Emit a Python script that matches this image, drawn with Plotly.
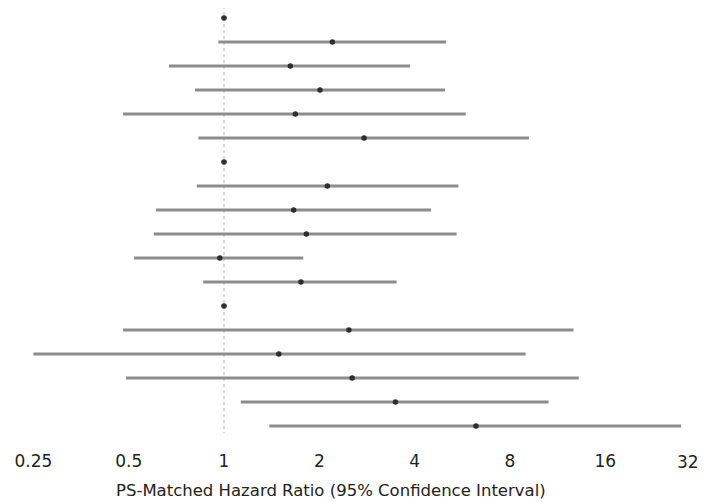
import numpy as np
import plotly.graph_objects as go

# Rows from top (0) to bottom (17); header rows have HR = 1 with no CI
hr =    [1.0, 2.20, 1.62, 2.01, 1.68, 2.77, 1.0, 2.12, 1.66, 1.82, 0.97, 1.75, 1.0, 2.48, 1.49, 2.54, 3.48, 6.25]
lower = [None, 0.96, 0.67, 0.81, 0.48, 0.83, None, 0.82, 0.61, 0.60, 0.52, 0.86, None, 0.48, 0.25, 0.49, 1.13, 1.39]
upper = [None, 5.03, 3.87, 4.99, 5.80, 9.19, None, 5.50, 4.51, 5.43, 1.78, 3.51, None, 12.7, 8.97, 13.2, 10.6, 27.8]

tick_vals = [0.25, 0.5, 1, 2, 4, 8, 16, 32]
tick_text = ["0.25", "0.5", "1", "2", "4", "8", "16", "32"]
x_title = "PS-Matched Hazard Ratio (95% Confidence Interval)"

rows = list(range(len(hr)))

fig = go.Figure()

# CI lines
xs, ys = [], []
for r, lo, hi in zip(rows, lower, upper):
    if lo is None:
        continue
    xs += [lo, hi, None]
    ys += [r, r, None]
fig.add_trace(go.Scatter(x=xs, y=ys, mode="lines",
                         line=dict(color="#8c8c8c", width=3),
                         hoverinfo="skip", showlegend=False))

# Point estimates
fig.add_trace(go.Scatter(x=hr, y=rows, mode="markers",
                         marker=dict(color="#2e2e2e", size=5.5),
                         showlegend=False))

# Reference line at HR = 1
fig.add_shape(type="line", xref="x", yref="y", x0=1, x1=1, y0=-0.5, y1=17.3,
              line=dict(color="#b5b5b5", width=1, dash="dot"), layer="below")

W, H = 701, 494
plot_h = 432
per_log10 = 95.3 / np.log10(2)
a = -216 / per_log10
b = a + W / per_log10

fig.update_layout(
    width=W, height=H,
    margin=dict(l=0, r=0, t=0, b=H - plot_h),
    paper_bgcolor="white", plot_bgcolor="white",
    font=dict(family="DejaVu Sans", color="#222222", size=16),
    xaxis=dict(type="log", range=[a, b], showgrid=False, zeroline=False,
               showline=False, ticks="", ticklabelstandoff=9,
               tickvals=tick_vals[:-1], ticktext=tick_text[:-1],
               tickfont=dict(size=17, color="#222222")),
    yaxis=dict(range=[17.583, -10 / 24], showgrid=False, zeroline=False,
               showline=False, showticklabels=False, ticks=""),
)

# last tick label sits inside the right edge
fig.add_annotation(x=np.log10(tick_vals[-1]), xref="x", xanchor="right",
                   y=-(453.5 - plot_h) / plot_h, yref="paper", yanchor="middle",
                   text=tick_text[-1], showarrow=False,
                   font=dict(size=17, color="#222222"))

# axis title
fig.add_annotation(x=323 / W, xref="paper", xanchor="center",
                   y=-(482 - plot_h) / plot_h, yref="paper", yanchor="middle",
                   text=x_title, showarrow=False,
                   font=dict(size=16.5, color="#222222"))

fig.write_html("out.html")
